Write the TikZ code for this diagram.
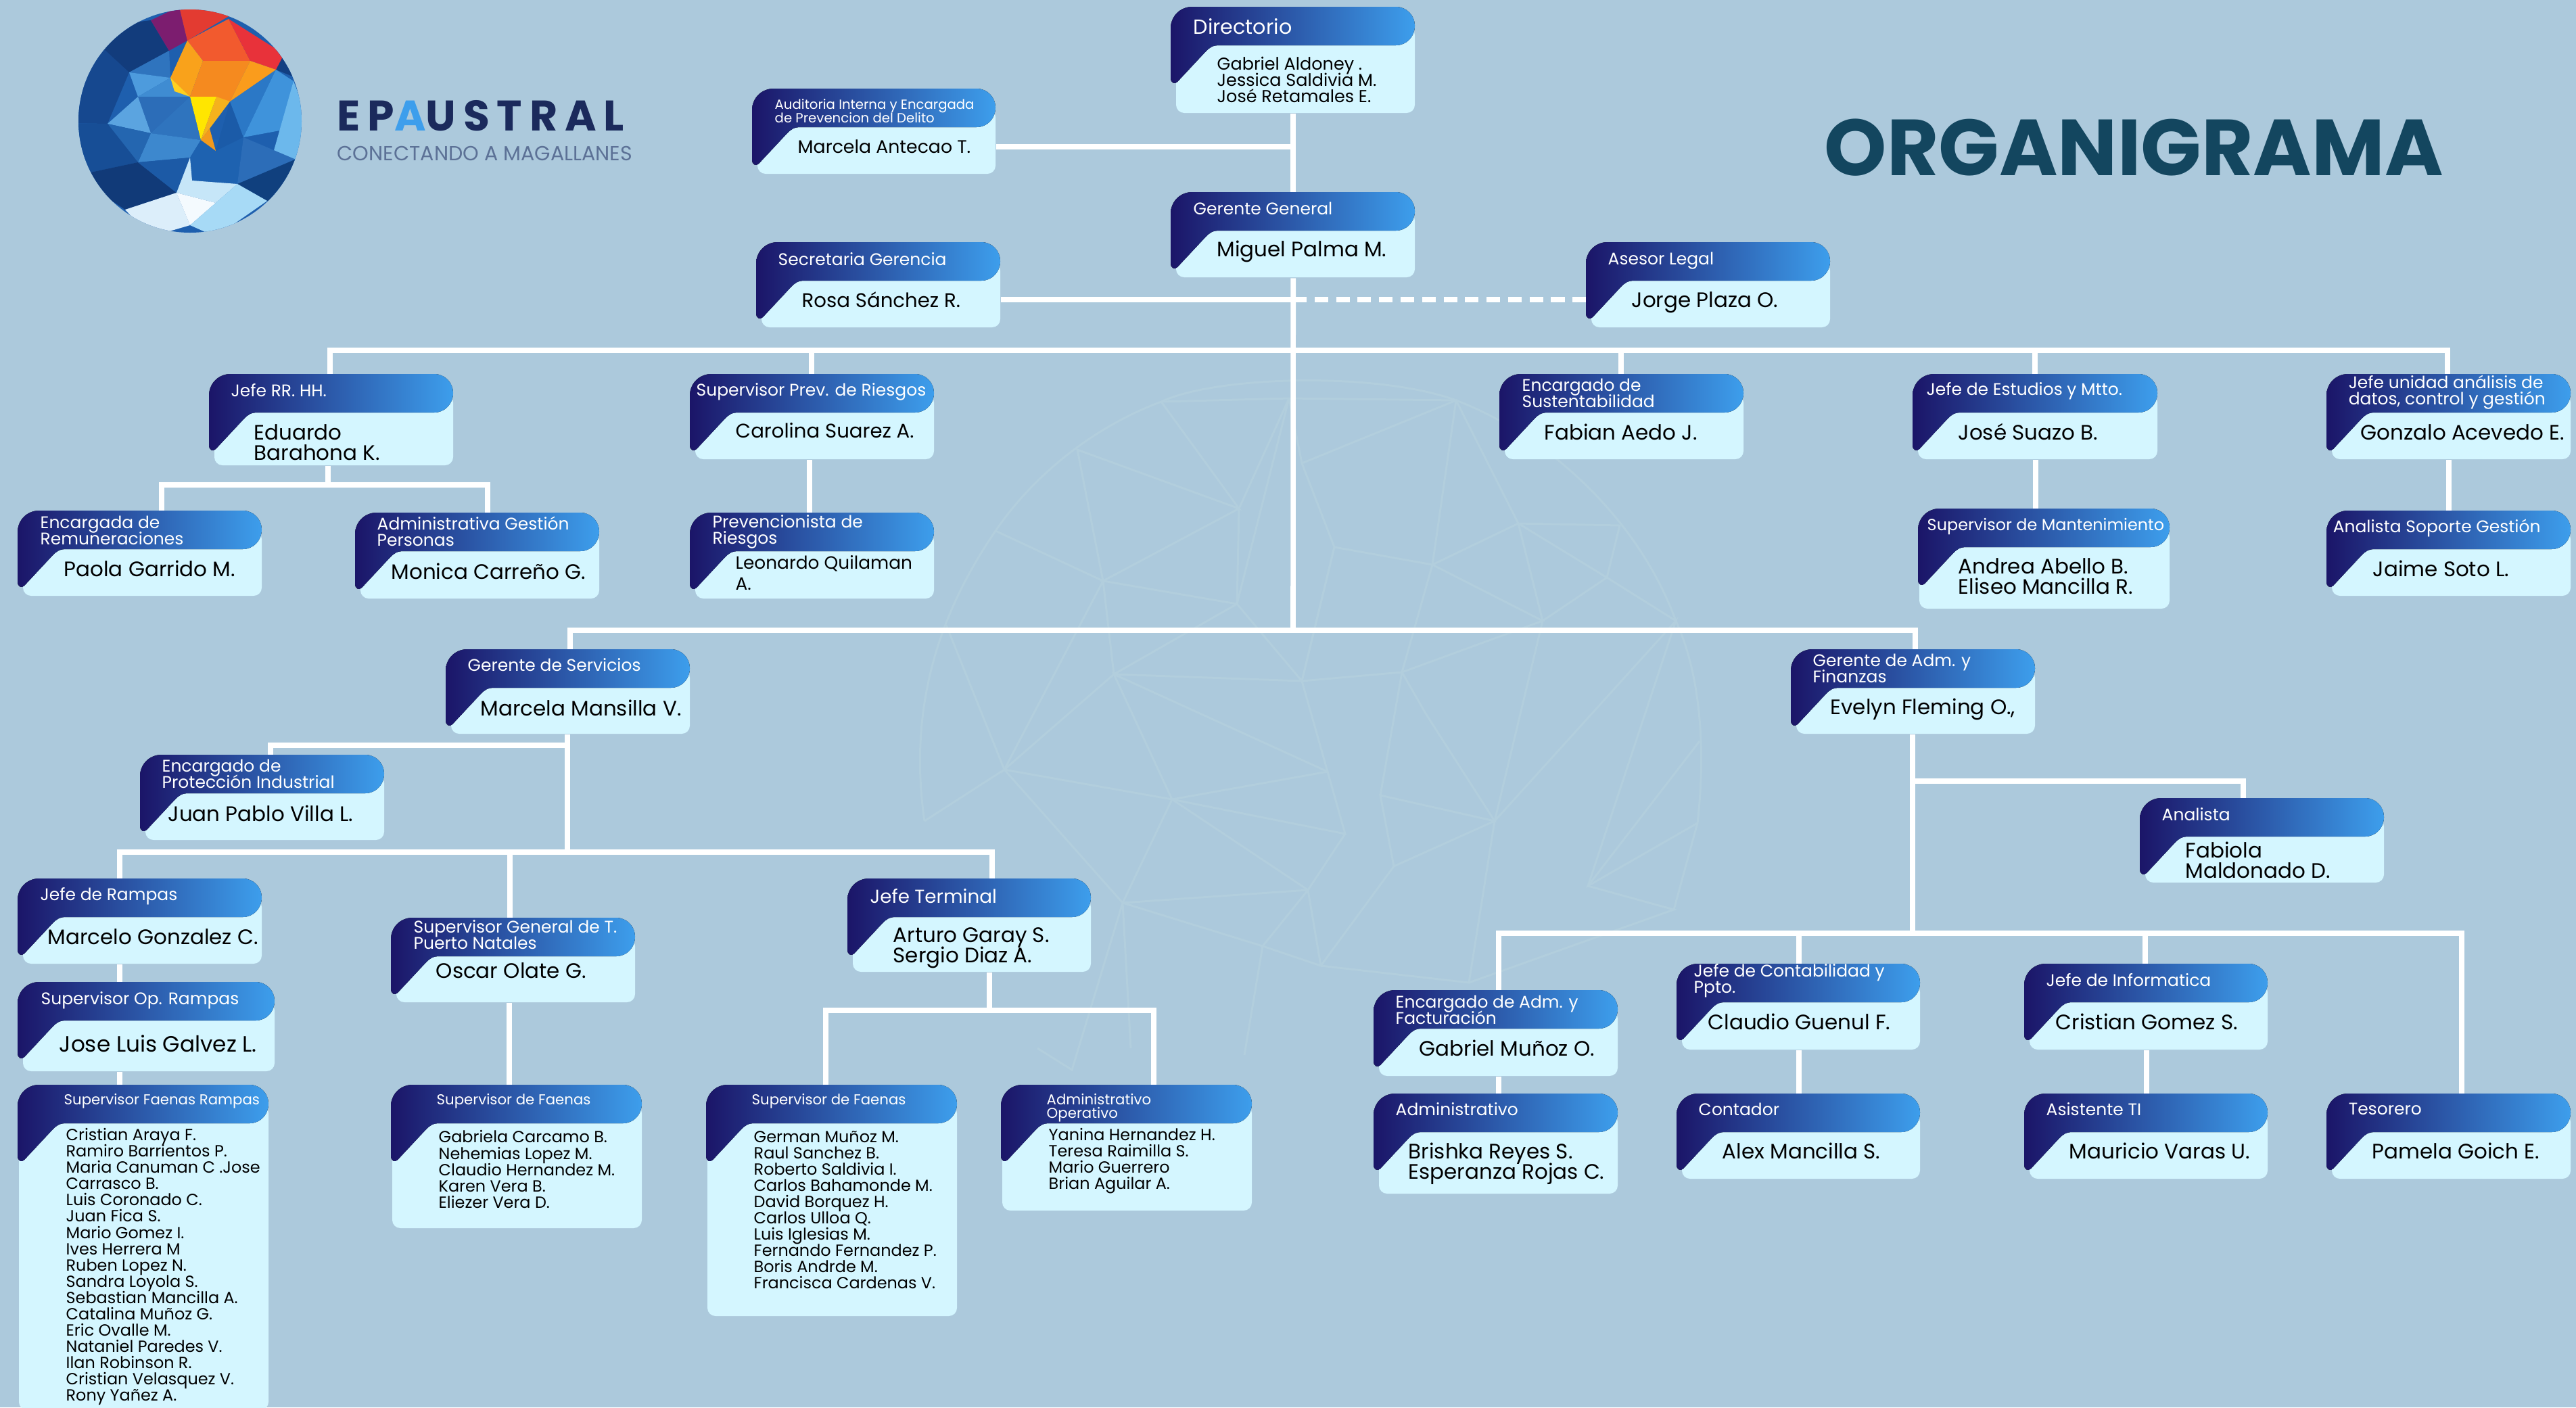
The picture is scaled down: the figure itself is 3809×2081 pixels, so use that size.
\documentclass[tikz,border=0pt]{standalone}
\usepackage{fontspec}
\setmainfont{Poppins}
\newfontfamily\logofont[LetterSpace=17]{Poppins}
\lineskiplimit=-30pt

\definecolor{fondo}{HTML}{ACC9DC}
\definecolor{malla}{HTML}{B2CEDD}
\definecolor{cuerpo}{HTML}{D4F6FF}
\definecolor{oscuro}{HTML}{1B1568}
\definecolor{claro}{HTML}{3D9EEC}
\definecolor{titulo}{HTML}{13465F}
\definecolor{marino}{HTML}{1B2A5C}

\tikzset{
  wire/.style={draw=white, line width=.076cm, line join=miter},
  wiredash/.style={draw=white, line width=.076cm, dash pattern=on .2cm off .1177cm},
  cardbox/.style={rectangle, anchor=north west, inner sep=0pt},
  ttl/.style={anchor=west, inner sep=0pt, align=left, text=white, font=\fontsize{7.1pt}{6.8pt}\selectfont},
  ttlb/.style={ttl, font=\fontsize{7.9pt}{7.6pt}\selectfont},
  ttls/.style={ttl, font=\fontsize{6.05pt}{5.8pt}\selectfont},
  who/.style={anchor=west, inner sep=0pt, align=left, text=black, font=\fontsize{8.8pt}{8.6pt}\selectfont},
  whos/.style={who, font=\fontsize{6.8pt}{6.83pt}\selectfont},
  whom/.style={who, font=\fontsize{7.25pt}{6.83pt}\selectfont},
}

% tarjeta: sangria, nombre, x, y, ancho, alto
\newcommand{\card}[6][8]{
  \node[cardbox, minimum width=#5*0.01cm, minimum height=#6*0.01cm] (#2) at (#3,#4) {};
  \begin{scope}[shift={(#3,#4)}]
    \fill[cuerpo, rounded corners=.12cm] (#1,30) rectangle (#5,#6);
    \fill[left color=oscuro, right color=claro]
      (0,32) .. controls (0,14) and (14,0) .. (32,0) -- (#5-28,0)
      .. controls (#5-12,0) and (#5,13) .. (#5,28)
      .. controls (#5,44) and (#5-12,57) .. (#5-28,57) -- (72,57)
      .. controls (62,57) and (58,60) .. (52,66) -- (10,111)
      .. controls (6,115) and (0,113) .. (0,105) -- cycle;
  \end{scope}
}
% trozo del logo: color, puntos
\newcommand{\poly}[2]{\definecolor{trozo}{HTML}{#1}\fill[trozo] #2 -- cycle;}

\begin{document}
\begin{tikzpicture}[x=0.01cm, y=-0.01cm]
  \useasboundingbox (0,0) rectangle (3809,2081);
  \fill[fondo] (0,0) rectangle (3809,2081);

  % malla de fondo
  \begin{scope}[draw=malla, line width=.03cm]
    \draw (1367,1214) .. controls (1340,1030) and (1400,890) .. (1472,785) .. controls (1530,700) and (1620,630) .. (1717,594) .. controls (1800,555) and (2040,550) .. (2153,592) .. controls (2280,640) and (2420,760) .. (2478,918) .. controls (2520,1010) and (2520,1130) .. (2510,1217) -- (2475,1345);
    \draw (1717,594) -- (1906,589) -- (2153,592);
    \draw (1717,594) -- (1832,752) -- (1593,665) -- (1631,859) -- (1472,785);
    \draw (1832,752) -- (1631,859) -- (1829,893) -- (1832,752) -- (1906,589) -- (1829,893);
    \draw (1631,859) -- (1647,997) -- (1829,893) -- (1925,1007) -- (1647,997) -- (1485,1138) -- (1631,859);
    \draw (1399,924) -- (1485,1138) -- (1733,1182) -- (1647,997) -- (1963,1141) -- (1925,1007) -- (1973,809) -- (1925,685) -- (1906,589);
    \draw (1485,1138) -- (1367,1214);
    \draw (1485,1138) -- (1660,1335) -- (1733,1182) -- (1989,1233) -- (1963,1141) -- (1733,1182);
    \draw (1733,1182) -- (1934,1316) -- (1989,1233);
    \draw (1660,1335) -- (1934,1316) -- (1867,1399) -- (1660,1335) -- (1672,1550);
    \draw (1934,1316) -- (1953,1428) -- (1867,1399) -- (1840,1560);
    \draw (1660,1335) -- (1585,1582) -- (1534,1550);
    \draw (1953,1428) -- (2172,1453) -- (2210,1214) -- (2061,1281) -- (2041,1176) -- (2210,1214) -- (2108,1055) -- (2073,994) -- (2041,1176);
    \draw (2061,1281) -- (1953,1428);
    \draw (2153,592) -- (2245,774) -- (2118,835) -- (2153,592) -- (1925,685);
    \draw (2245,774) -- (2395,777) -- (2376,854) -- (2245,774) -- (2281,918) -- (2376,854) -- (2478,918);
    \draw (2118,835) -- (2281,918) -- (2073,994) -- (2118,835) -- (1973,809) -- (1925,1007) -- (2073,994);
    \draw (2281,918) -- (2210,1214) -- (2478,918) -- (2348,1310) -- (2510,1217);
    \draw (2348,1310) -- (2475,1345) -- (2172,1453);
    \draw (2513,1096) -- (2348,1310);
  \end{scope}

  % logo
  \begin{scope}
    \clip (281,179) circle [radius=165];
    \poly{1E5FAE}{(100,0) -- (460,0) -- (460,350) -- (100,350)}
    \poly{123C7C}{(140,40) -- (223,30) -- (250,75) -- (191,107) -- (156,82)}
    \poly{16488F}{(100,182) -- (140,60) -- (191,107) -- (159,183)}
    \poly{2F74BE}{(191,107) -- (250,75) -- (252,115)}
    \poly{4D9BDD}{(191,107) -- (252,115) -- (204,143)}
    \poly{3F8CD2}{(204,143) -- (252,115) -- (281,143)}
    \poly{2C6DB8}{(204,143) -- (281,143) -- (223,197)}
    \poly{5BA4E0}{(204,143) -- (223,197) -- (159,183)}
    \poly{2F74BE}{(281,143) -- (297,207) -- (223,197)}
    \poly{3D88CE}{(223,197) -- (297,207) -- (281,233) -- (204,240)}
    \poly{2466B0}{(159,183) -- (223,197) -- (204,240)}
    \poly{174E96}{(100,182) -- (159,183) -- (204,240) -- (110,260)}
    \poly{113A78}{(110,260) -- (204,240) -- (261,285) -- (185,310)}
    \poly{1C5AA6}{(204,240) -- (281,233) -- (261,285)}
    \poly{1E62B0}{(297,207) -- (360,203) -- (351,272) -- (284,267) -- (281,233)}
    \poly{1B5BA8}{(319,223) -- (360,203) -- (340,150)}
    \poly{2B78C6}{(360,203) -- (408,103) -- (340,150)}
    \poly{123F82}{(408,103) -- (408,60) -- (450,120)}
    \poly{3F93DB}{(408,103) -- (434,120) -- (446,187) -- (360,203)}
    \poly{6CB8EC}{(434,120) -- (460,187) -- (440,237) -- (400,240)}
    \poly{2C6DB8}{(360,203) -- (440,237) -- (351,272)}
    \poly{10407E}{(351,272) -- (450,230) -- (450,297) -- (395,297)}
    \poly{DCEEFA}{(185,310) -- (261,285) -- (281,333) -- (223,350)}
    \poly{C6E6F8}{(261,285) -- (281,233) -- (284,267) -- (351,272) -- (319,300)}
    \poly{F4FAFE}{(261,285) -- (319,300) -- (281,333)}
    \poly{A7DAF6}{(281,333) -- (319,300) -- (351,272) -- (395,297) -- (319,350)}
    \poly{7C1D6F}{(223,30) -- (265,10) -- (277,60) -- (250,75)}
    \poly{E33B31}{(265,10) -- (345,20) -- (277,60)}
    \poly{F25A2E}{(277,60) -- (338,28) -- (370,90) -- (300,90)}
    \poly{E8323A}{(338,28) -- (420,80) -- (408,103) -- (370,90)}
    \poly{F9A21B}{(252,115) -- (277,60) -- (300,90) -- (281,143)}
    \poly{FFD01E}{(252,115) -- (281,143) -- (258,135)}
    \poly{F58A1F}{(300,90) -- (370,90) -- (340,150) -- (281,143)}
    \poly{FA9C1C}{(370,90) -- (408,103) -- (340,150)}
    \poly{FFE600}{(281,143) -- (320,143) -- (297,207)}
    \poly{F5B21D}{(320,143) -- (340,150) -- (310,190) -- (297,207)}
    \poly{F39A1C}{(297,207) -- (310,190) -- (319,223)}
  \end{scope}
  \node[anchor=west, inner sep=0pt, text=marino] (logoname) at (498,171) {\logofont\bfseries\fontsize{18pt}{18pt}\selectfont EP{\color{claro}A}USTRAL};
  \node[anchor=west, inner sep=0pt, text=marino!55!fondo] (logotag) at (498,227) {\fontsize{8.56pt}{9pt}\selectfont CONECTANDO A MAGALLANES};
  \node[anchor=west, inner sep=0pt, text=titulo] (bigtitle) at (2697,218) {\bfseries\fontsize{33.4pt}{34pt}\selectfont ORGANIGRAMA};

  % tarjetas
  \card{dir}{1731}{10}{361}{157}
  \node[ttl, font=\fontsize{8.6pt}{8.6pt}\selectfont] (dirT) at ([shift={(33,29)}]dir.north west) {Directorio};
  \node[whom] (dirP) at ([shift={(68,108)}]dir.north west) {Gabriel Aldoney .\\Jessica Saldivia M.\\José Retamales E.};
  \card{aud}{1112}{131}{360}{126}
  \node[ttl, font=\fontsize{5.6pt}{5.7pt}\selectfont] (audT) at ([shift={(33,33)}]aud.north west) {Auditoria Interna y Encargada\\de Prevencion del Delito};
  \node[who, font=\fontsize{7.6pt}{8.6pt}\selectfont] (audP) at ([shift={(67,86)}]aud.north west) {Marcela Antecao T.};
  \card{gg}{1731}{284}{361}{126}
  \node[ttl] (ggT) at ([shift={(33,24)}]gg.north west) {Gerente General};
  \node[who] (ggP) at ([shift={(68,88)}]gg.north west) {Miguel Palma M.};
  \card{sec}{1118}{358}{361}{126}
  \node[ttl] (secT) at ([shift={(32,25)}]sec.north west) {Secretaria Gerencia};
  \node[who, font=\fontsize{8.3pt}{8.6pt}\selectfont] (secP) at ([shift={(67,85)}]sec.north west) {Rosa Sánchez R.};
  \card{ase}{2345}{358}{361}{126}
  \node[ttl] (aseT) at ([shift={(32,28)}]ase.north west) {Asesor Legal};
  \node[who] (aseP) at ([shift={(67,89)}]ase.north west) {Jorge Plaza O.};

  \card{rrhh}{309}{553}{361}{135}
  \node[ttl] (rrhhT) at ([shift={(32,24)}]rrhh.north west) {Jefe RR. HH.};
  \node[who] (rrhhP) at ([shift={(66,101)}]rrhh.north west) {Eduardo\\Barahona K.};
  \card{prev}{1020}{553}{361}{126}
  \node[ttl] (prevT) at ([shift={(9,26)}]prev.north west) {Supervisor Prev. de Riesgos};
  \node[who, font=\fontsize{8.3pt}{8.6pt}\selectfont] (prevP) at ([shift={(67,84)}]prev.north west) {Carolina Suarez A.};
  \card{sust}{2217}{553}{361}{126}
  \node[ttl] (sustT) at ([shift={(33,28)}]sust.north west) {Encargado de\\Sustentabilidad};
  \node[who] (sustP) at ([shift={(66,86)}]sust.north west) {Fabian Aedo J.};
  \card{estu}{2828}{553}{362}{126}
  \node[ttl] (estuT) at ([shift={(20,25)}]estu.north west) {Jefe de Estudios y Mtto.};
  \node[who] (estuP) at ([shift={(67,86)}]estu.north west) {José Suazo B.};
  \card{unid}{3440}{553}{361}{126}
  \node[ttl] (unidT) at ([shift={(32,27)}]unid.north west) {Jefe unidad análisis de\\datos, control y gestión};
  \node[who] (unidP) at ([shift={(50,86)}]unid.north west) {Gonzalo Acevedo E.};

  \card{remu}{26}{755}{361}{126}
  \node[ttl] (remuT) at ([shift={(33,29)}]remu.north west) {Encargada de\\Remuneraciones};
  \node[who] (remuP) at ([shift={(68,86)}]remu.north west) {Paola Garrido M.};
  \card{gest}{525}{758}{361}{127}
  \node[ttl] (gestT) at ([shift={(32,28)}]gest.north west) {Administrativa Gestión\\Personas};
  \node[who] (gestP) at ([shift={(53,87)}]gest.north west) {Monica Carreño G.};
  \card{prevn}{1020}{758}{361}{127}
  \node[ttl] (prevnT) at ([shift={(33,28)}]prevn.north west) {Prevencionista de\\Riesgos};
  \node[who, font=\fontsize{7.5pt}{8.6pt}\selectfont] (prevnP) at ([shift={(67,89)}]prevn.north west) {Leonardo Quilaman\\A.};
  \card[2]{mant}{2836}{752}{372}{148}
  \node[ttl, font=\fontsize{6.8pt}{6.8pt}\selectfont] (mantT) at ([shift={(13,26)}]mant.north west) {Supervisor de Mantenimiento};
  \node[who] (mantP) at ([shift={(59,100)}]mant.north west) {Andrea Abello B.\\Eliseo Mancilla R.};
  \card{sopo}{3440}{755}{361}{126}
  \node[ttl] (sopoT) at ([shift={(9,26)}]sopo.north west) {Analista Soporte Gestión};
  \node[who] (sopoP) at ([shift={(68,86)}]sopo.north west) {Jaime Soto L.};

  \card{serv}{659}{960}{361}{125}
  \node[ttl] (servT) at ([shift={(32,23)}]serv.north west) {Gerente de Servicios};
  \node[who] (servP) at ([shift={(51,87)}]serv.north west) {Marcela Mansilla V.};
  \card{adm}{2648}{960}{361}{125}
  \node[ttl] (admT) at ([shift={(32,28)}]adm.north west) {Gerente de Adm. y\\Finanzas};
  \node[who] (admP) at ([shift={(58,89)}]adm.north west) {Evelyn Fleming O.,};
  \card{prot}{207}{1116}{361}{126}
  \node[ttl] (protT) at ([shift={(32,28)}]prot.north west) {Encargado de\\Protección Industrial};
  \node[who] (protP) at ([shift={(41,87)}]prot.north west) {Juan Pablo Villa L.};
  \card{anta}{3164}{1180}{361}{125}
  \node[ttl] (antaT) at ([shift={(32,24)}]anta.north west) {Analista};
  \node[who] (antaP) at ([shift={(67,92)}]anta.north west) {Fabiola\\Maldonado D.};

  \card{ramp}{26}{1299}{361}{126}
  \node[ttl] (rampT) at ([shift={(33,26)}]ramp.north west) {Jefe de Rampas};
  \node[who] (rampP) at ([shift={(44,86)}]ramp.north west) {Marcelo Gonzalez C.};
  \card{pnat}{578}{1357}{361}{125}
  \node[ttl] (pnatT) at ([shift={(33,25)}]pnat.north west) {Supervisor General de T.\\Puerto Natales};
  \node[who] (pnatP) at ([shift={(66,78)}]pnat.north west) {Oscar Olate G.};
  \card{term}{1253}{1299}{360}{138}
  \node[ttlb] (termT) at ([shift={(33,26)}]term.north west) {Jefe Terminal};
  \node[who] (termP) at ([shift={(67,103)}]term.north west) {Arturo Garay S.\\Sergio Diaz A.};
  \card{cont}{2479}{1425}{360}{127}
  \node[ttl] (contT) at ([shift={(25,25)}]cont.north west) {Jefe de Contabilidad y\\Ppto.};
  \node[who] (contP) at ([shift={(46,86)}]cont.north west) {Claudio Guenul F.};
  \card{info}{2993}{1425}{360}{127}
  \node[ttl] (infoT) at ([shift={(32,24)}]info.north west) {Jefe de Informatica};
  \node[who] (infoP) at ([shift={(46,86)}]info.north west) {Cristian Gomez S.};

  \card{opra}{26}{1452}{380}{132}
  \node[ttl] (opraT) at ([shift={(34,27)}]opra.north west) {Supervisor Op. Rampas};
  \node[who, font=\fontsize{9.3pt}{8.6pt}\selectfont] (opraP) at ([shift={(61,91)}]opra.north west) {Jose Luis Galvez L.};
  \card{fact}{2031}{1464}{361}{127}
  \node[ttl] (factT) at ([shift={(32,29)}]fact.north west) {Encargado de Adm. y\\Facturación};
  \node[who] (factP) at ([shift={(67,86)}]fact.north west) {Gabriel Muñoz O.};

  \card[2]{frmp}{26}{1604}{371}{481}
  \node[ttls] (frmpT) at ([shift={(68,24)}]frmp.north west) {Supervisor Faenas Rampas};
  \node[whos] (frmpP) at ([shift={(71,269)}]frmp.north west) {Cristian Araya F.\\Ramiro Barrientos P.\\Maria Canuman C .Jose\\Carrasco B.\\Luis Coronado C.\\Juan Fica S.\\Mario Gomez I.\\Ives Herrera M\\Ruben Lopez N.\\Sandra Loyola S.\\Sebastian Mancilla A.\\Catalina Muñoz G.\\Eric Ovalle M.\\Nataniel Paredes V.\\Ilan Robinson R.\\Cristian Velasquez V.\\Rony Yañez A.};
  \card[2]{fpto}{578}{1604}{371}{212}
  \node[ttls] (fptoT) at ([shift={(67,24)}]fpto.north west) {Supervisor de Faenas};
  \node[whos] (fptoP) at ([shift={(70,125)}]fpto.north west) {Gabriela Carcamo B.\\Nehemias Lopez M.\\Claudio Hernandez M.\\Karen Vera B.\\Eliezer Vera D.};
  \card[2]{fter}{1044}{1604}{371}{342}
  \node[ttls] (fterT) at ([shift={(67,24)}]fter.north west) {Supervisor de Faenas};
  \node[whos] (fterP) at ([shift={(70,185)}]fter.north west) {German Muñoz M.\\Raul Sanchez B.\\Roberto Saldivia I.\\Carlos Bahamonde M.\\David Borquez H.\\Carlos Ulloa Q.\\Luis Iglesias M.\\Fernando Fernandez P.\\Boris Andrde M.\\Francisca Cardenas V.};
  \card[2]{aope}{1480}{1604}{371}{186}
  \node[ttls] (aopeT) at ([shift={(67,34)}]aope.north west) {Administrativo\\Operativo};
  \node[whos] (aopeP) at ([shift={(70,113)}]aope.north west) {Yanina Hernandez H.\\Teresa Raimilla S.\\Mario Guerrero\\Brian Aguilar A.};

  \card{admi}{2031}{1617}{361}{148}
  \node[ttl] (admiT) at ([shift={(32,23)}]admi.north west) {Administrativo};
  \node[who] (admiP) at ([shift={(51,104)}]admi.north west) {Brishka Reyes S.\\Esperanza Rojas C.};
  \card{ctdr}{2479}{1617}{360}{126}
  \node[ttl] (ctdrT) at ([shift={(32,23)}]ctdr.north west) {Contador};
  \node[who] (ctdrP) at ([shift={(67,85)}]ctdr.north west) {Alex Mancilla S.};
  \card{asis}{2993}{1617}{360}{126}
  \node[ttl] (asisT) at ([shift={(32,23)}]asis.north west) {Asistente TI};
  \node[who] (asisP) at ([shift={(66,85)}]asis.north west) {Mauricio Varas U.};
  \card{teso}{3440}{1617}{361}{126}
  \node[ttl] (tesoT) at ([shift={(32,23)}]teso.north west) {Tesorero};
  \node[who] (tesoP) at ([shift={(67,85)}]teso.north west) {Pamela Goich E.};

  % barras
  \coordinate (audJ) at (1912,217);
  \coordinate (secJ) at (1912,443);
  \coordinate (busAl) at (488,518);
  \coordinate (busAr) at (3619,518);
  \coordinate (busA1) at (1200,518);
  \coordinate (busA2) at (2397,518);
  \coordinate (busA3) at (3009,518);
  \coordinate (rrhhJ) at (485,717);
  \coordinate (rrhhl) at (239,717);
  \coordinate (rrhhr) at (721,717);
  \coordinate (busBl) at (843,932);
  \coordinate (busBr) at (2832,932);
  \coordinate (busBc) at (1912,932);
  \coordinate (servJ) at (839,1102);
  \coordinate (servl) at (400,1102);
  \coordinate (busCc) at (839,1260);
  \coordinate (busCl) at (177,1260);
  \coordinate (busCr) at (1467,1260);
  \coordinate (busC1) at (754,1260);
  \coordinate (termJ) at (1463,1494);
  \coordinate (terml) at (1221,1494);
  \coordinate (termr) at (1706,1494);
  \coordinate (admJ) at (2826,1155);
  \coordinate (admr) at (3317,1155);
  \coordinate (busDc) at (2828,1380);
  \coordinate (busDl) at (2216,1380);
  \coordinate (busDr) at (3640,1380);
  \coordinate (busD1) at (2660,1380);
  \coordinate (busD2) at (3172,1380);

  % conectores
  \draw[wire] (dir.south) -- (gg.north);
  \draw[wire] (gg.south) -- (busBc);
  \draw[wire] (audJ -| aud.east) -- (audJ);
  \draw[wire] (secJ -| sec.east) -- (secJ);
  \draw[wiredash] (secJ) -- (secJ -| ase.west);
  \draw[wire] (busAl |- rrhh.north) -- (busAl) -- (busAr) -- (busAr |- unid.north);
  \draw[wire] (busA1) -- (busA1 |- prev.north);
  \draw[wire] (busA2) -- (busA2 |- sust.north);
  \draw[wire] (busA3) -- (busA3 |- estu.north);
  \draw[wire] ([xshift=-.04cm]prev.south) -- ([xshift=-.04cm]prevn.north);
  \draw[wire] (estu.south) -- (estu.south |- mant.north);
  \draw[wire] (unid.south) -- (sopo.north);
  \draw[wire] (rrhhJ |- rrhh.south) -- (rrhhJ);
  \draw[wire] (rrhhl |- remu.north) -- (rrhhl) -- (rrhhr) -- (rrhhr |- gest.north);
  \draw[wire] (busBl |- serv.north) -- (busBl) -- (busBr) -- (busBr |- adm.north);
  \draw[wire] (busCc |- serv.south) -- (busCc);
  \draw[wire] (servJ) -- (servl) -- (servl |- prot.north);
  \draw[wire] (busCl |- ramp.north) -- (busCl) -- (busCr) -- (busCr |- term.north);
  \draw[wire] (busC1) -- (busC1 |- pnat.north);
  \draw[wire] (busCl |- ramp.south) -- (busCl |- opra.north);
  \draw[wire] (busCl |- opra.south) -- (busCl |- frmp.north);
  \draw[wire] ([xshift=-.06cm]pnat.south) -- ([xshift=-.06cm]pnat.south |- fpto.north);
  \draw[wire] (termJ |- term.south) -- (termJ);
  \draw[wire] (terml |- fter.north) -- (terml) -- (termr) -- (termr |- aope.north);
  \draw[wire] (busDc |- adm.south) -- (busDc);
  \draw[wire] (admJ) -- (admr) -- (admr |- anta.north);
  \draw[wire] (busDl |- fact.north) -- (busDl) -- (busDr) -- (busDr |- teso.north);
  \draw[wire] (busD1) -- (busD1 |- cont.north);
  \draw[wire] (busD2) -- (busD2 |- info.north);
  \draw[wire] (busDl |- fact.south) -- (busDl |- admi.north);
  \draw[wire] (busD1 |- cont.south) -- (busD1 |- ctdr.north);
  \draw[wire] (info.south) -- (info.south |- asis.north);
\end{tikzpicture}
\end{document}
